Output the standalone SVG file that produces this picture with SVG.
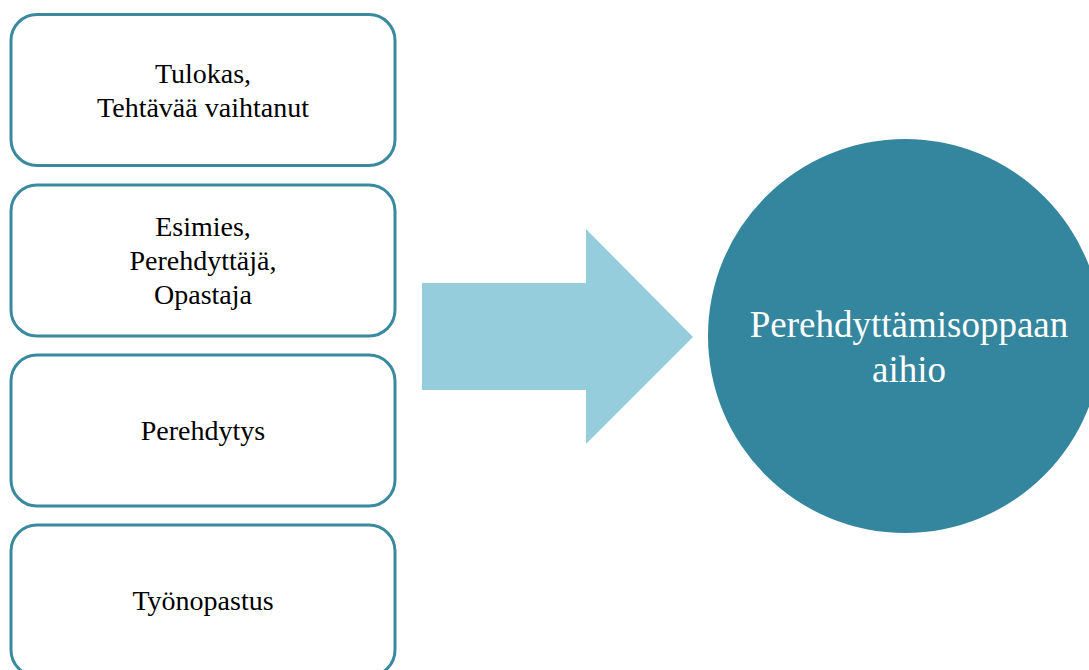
<svg xmlns="http://www.w3.org/2000/svg" width="1089" height="670" viewBox="0 0 1089 670">
<style>
.box{fill:#ffffff;stroke:#3a8a9f;stroke-width:3}
.bt{font-family:"Liberation Serif",serif;font-size:28px;fill:#000000;text-anchor:middle}
.ct{font-family:"Liberation Serif",serif;font-size:37px;fill:#ffffff;text-anchor:middle}
</style>
<rect width="1089" height="670" fill="#ffffff"/>
<g id="node-tulokas">
<rect class="box" x="11" y="14.5" width="384" height="151" rx="26"/>
<text class="bt" x="203" y="83">Tulokas,</text>
<text class="bt" x="203" y="117">Tehtävää vaihtanut</text>
</g>
<g id="node-esimies">
<rect class="box" x="11" y="185" width="384" height="151" rx="26"/>
<text class="bt" x="203" y="236">Esimies,</text>
<text class="bt" x="203" y="270">Perehdyttäjä,</text>
<text class="bt" x="203" y="304">Opastaja</text>
</g>
<g id="node-perehdytys">
<rect class="box" x="11" y="355" width="384" height="151" rx="26"/>
<text class="bt" x="203" y="440">Perehdytys</text>
</g>
<g id="node-tyonopastus">
<rect class="box" x="11" y="525" width="384" height="151" rx="26"/>
<text class="bt" x="203" y="610">Työnopastus</text>
</g>
<g id="connectors">
<polygon points="422,283 586,283 586,229 693,337 586,444 586,390 422,390" fill="#96cddd"/>
</g>
<g id="node-aihio">
<circle cx="905" cy="336" r="197" fill="#33869e"/>
<text class="ct" x="909" y="337">Perehdyttämisoppaan</text>
<text class="ct" x="909" y="382">aihio</text>
</g>
</svg>
